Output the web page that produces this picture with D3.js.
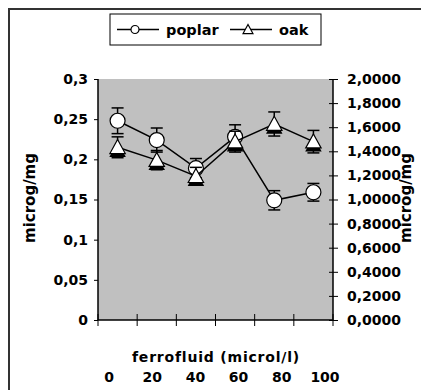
<!DOCTYPE html>
<html>
<head>
<meta charset="utf-8">
<script src="https://cdn.jsdelivr.net/npm/d3@7"></script>
<style>
  body { margin: 0; background: #fff; }
  text { font-family: "DejaVu Sans", Arial, sans-serif; font-weight: bold; fill: #000; }
</style>
</head>
<body>
<div id="chart"></div>
<script>
// data
const categories = ["c1", "c2", "c3", "c4", "c5", "c6"];
const poplar = [0.248, 0.224, 0.189, 0.228, 0.149, 0.159];
const poplarErr = [0.016, 0.015, 0.012, 0.015, 0.012, 0.011];
const oak = [0.215, 0.199, 0.179, 0.222, 0.244, 0.222];
const oakErr = [0.013, 0.012, 0.011, 0.013, 0.015, 0.014];
const xTickLabels = [0, 20, 40, 60, 80, 100];
const leftTicks = [0, 0.05, 0.1, 0.15, 0.2, 0.25, 0.3];
const rightTicks = [0, 0.2, 0.4, 0.6, 0.8, 1, 1.2, 1.4, 1.6, 1.8, 2];

const W = 421, H = 390;
const margin = { left: 98, right: 88, top: 79, bottom: 70 };
const width = W - margin.left - margin.right;   // 235
const height = H - margin.top - margin.bottom;  // 241

const svg = d3.select("#chart").append("svg")
  .attr("width", W)
  .attr("height", H);

// outer frame (runs off the right and bottom edges)
svg.append("rect")
  .attr("x", 9).attr("y", 9)
  .attr("width", W + 20).attr("height", H + 20)
  .attr("fill", "none")
  .attr("stroke", "#333")
  .attr("stroke-width", 2);

const g = svg.append("g")
  .attr("transform", `translate(${margin.left},${margin.top})`);

const x = d3.scaleBand().domain(categories).range([0, width]).padding(0);
const y = d3.scaleLinear().domain([0, 0.3]).range([height, 0]);
const y2 = d3.scaleLinear().domain([0, 2]).range([height, 0]);

// plot area
g.append("rect")
  .attr("width", width).attr("height", height)
  .attr("fill", "#c0c0c0");

const comma = f => v => f(v).replace(".", ",");

// left axis
const yAxis = g.append("g")
  .call(d3.axisLeft(y).tickValues(leftTicks).tickSize(4).tickPadding(6)
    .tickFormat(comma(d3.format("~g"))));
// right axis
const y2Axis = g.append("g")
  .attr("transform", `translate(${width},0)`)
  .call(d3.axisRight(y2).tickValues(rightTicks).tickSize(5).tickPadding(9)
    .tickFormat(comma(d3.format(".4f"))));
y2Axis.selectAll(".tick line").attr("x1", -4);
// bottom axis: ticks between categories, crossing the line
const xAxis = g.append("g")
  .attr("transform", `translate(0,${height})`)
  .call(d3.axisBottom(x).tickSize(0).tickFormat(""));
xAxis.selectAll(".tick").remove();
xAxis.selectAll(".bt")
  .data(d3.range(categories.length + 1))
  .enter().append("line")
  .attr("x1", i => i * x.bandwidth()).attr("x2", i => i * x.bandwidth())
  .attr("y1", -6).attr("y2", 6)
  .attr("stroke", "#000");

[yAxis, y2Axis, xAxis].forEach(a => {
  a.select(".domain").attr("stroke", "#000").attr("stroke-width", 1.5);
  a.selectAll(".tick line").attr("stroke", "#000");
  a.selectAll("text").style("font-size", "14px").style("font-family", "DejaVu Sans, Arial, sans-serif").style("font-weight", "bold");
});
xAxis.select(".domain").attr("d", `M0,0H${width}`);
yAxis.select(".domain").attr("d", `M0,0V${height}`);
y2Axis.select(".domain").attr("d", `M0,0V${height}`);

const cx = (d, i) => x(categories[i]) + x.bandwidth() / 2;
const triPath = s => `M0,${-s * 0.55}L${s * 0.55},${s * 0.45}L${-s * 0.55},${s * 0.45}Z`;

function drawSeries(vals, errs, kind) {
  const s = g.append("g");
  const line = d3.line().x(cx).y(d => y(d));
  s.append("path").datum(vals)
    .attr("d", line)
    .attr("fill", "none").attr("stroke", "#000").attr("stroke-width", 1.5);

  const eb = s.selectAll(".eb").data(vals).enter().append("g")
    .attr("transform", (d, i) => `translate(${cx(d, i)},0)`);
  eb.append("line")
    .attr("y1", (d, i) => y(d + errs[i])).attr("y2", (d, i) => y(d - errs[i]))
    .attr("stroke", "#000").attr("stroke-width", 1.5);
  [1, -1].forEach(sg => {
    eb.append("line")
      .attr("x1", -6).attr("x2", 6)
      .attr("y1", (d, i) => y(d + sg * errs[i])).attr("y2", (d, i) => y(d + sg * errs[i]))
      .attr("stroke", "#000").attr("stroke-width", 1.5);
  });

  const m = s.selectAll(".m").data(vals).enter().append("g")
    .attr("transform", (d, i) => `translate(${cx(d, i)},${y(d)})`);
  if (kind === "circle") {
    m.append("circle").attr("r", 7.5)
      .attr("fill", "#fff").attr("stroke", "#000").attr("stroke-width", 1.2);
  } else {
    m.append("path").attr("d", triPath(15))
      .attr("transform", "translate(0,3)")
      .attr("fill", "#000");
    m.append("path").attr("d", triPath(14))
      .attr("fill", "#fff").attr("stroke", "#000").attr("stroke-width", 1.2);
  }
}
drawSeries(poplar, poplarErr, "circle");
drawSeries(oak, oakErr, "triangle");

// axis titles
svg.append("text")
  .attr("transform", "translate(35,198) rotate(-90)")
  .attr("text-anchor", "middle")
  .style("font-size", "15px")
  .text("microg/mg");
svg.append("text")
  .attr("transform", "translate(411,198) rotate(-90)")
  .attr("text-anchor", "middle")
  .style("font-size", "15px")
  .text("microg/mg");
svg.append("text")
  .attr("x", 216).attr("y", 362)
  .attr("text-anchor", "middle")
  .style("font-size", "14px")
  .style("letter-spacing", "0.8px")
  .text("ferrofluid (microl/l)");

// x tick labels row under the title
const xl = d3.scaleLinear().domain([0, 100]).range([109, 325]);
svg.selectAll(".xl").data(xTickLabels).enter().append("text")
  .attr("x", d => xl(d)).attr("y", 382)
  .attr("text-anchor", "middle")
  .style("font-size", "14px")
  .text(d => d);

// legend
const lg = svg.append("g");
lg.append("rect")
  .attr("x", 110).attr("y", 14).attr("width", 211).attr("height", 31)
  .attr("fill", "#fff").attr("stroke", "#000").attr("stroke-width", 1);
const legendItems = [
  { name: "poplar", kind: "circle", x0: 117 },
  { name: "oak", kind: "triangle", x0: 230 }
];
legendItems.forEach(it => {
  const li = lg.append("g").attr("transform", `translate(${it.x0},29.5)`);
  li.append("line").attr("x1", 0).attr("x2", 42)
    .attr("stroke", "#000").attr("stroke-width", 1.5);
  if (it.kind === "circle") {
    li.append("circle").attr("cx", 18).attr("r", 4)
      .attr("fill", "#fff").attr("stroke", "#000").attr("stroke-width", 1.2);
  } else {
    li.append("path").attr("d", triPath(9)).attr("transform", "translate(18,0)")
      .attr("fill", "#fff").attr("stroke", "#000").attr("stroke-width", 1.2);
  }
  li.append("text").attr("x", 49).attr("y", 5)
    .style("font-size", "14.5px")
    .text(it.name);
});
</script>
</body>
</html>
